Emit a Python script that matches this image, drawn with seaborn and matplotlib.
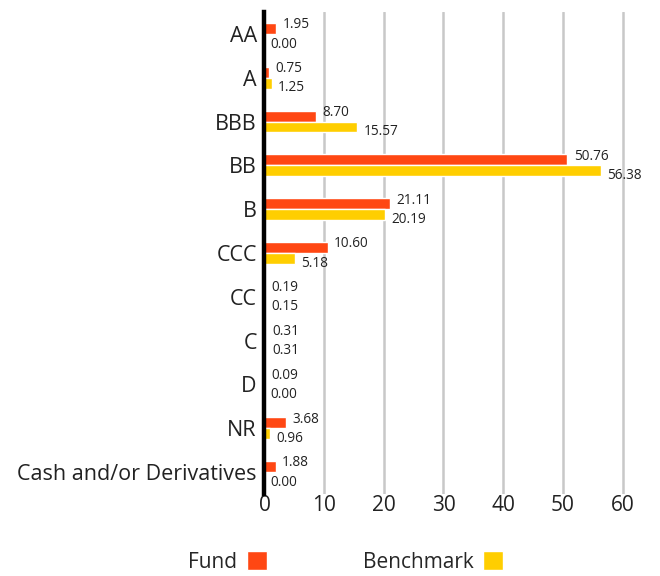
import matplotlib
matplotlib.use("Agg")
import matplotlib.pyplot as plt
import seaborn as sns
import pandas as pd
from matplotlib.patches import Patch

categories = ["AA", "A", "BBB", "BB", "B", "CCC", "CC", "C", "D", "NR", "Cash and/or Derivatives"]
fund = [1.95, 0.75, 8.70, 50.76, 21.11, 10.60, 0.19, 0.31, 0.09, 3.68, 1.88]
benchmark = [0.00, 1.25, 15.57, 56.38, 20.19, 5.18, 0.15, 0.31, 0.00, 0.96, 0.00]
series = ["Fund", "Benchmark"]
colors = ["#FF4713", "#FFCE00"]
xticks = [0, 10, 20, 30, 40, 50, 60]

df = pd.DataFrame({
    "Category": categories * 2,
    "Value": fund + benchmark,
    "Series": [series[0]] * len(categories) + [series[1]] * len(categories),
})

sns.set_theme(style="white")
plt.rcParams["font.family"] = ["Open Sans", "DejaVu Sans"]

fig = plt.figure(figsize=(6.6, 5.76), dpi=100)
ax = fig.add_axes([0.4007, 0.1424, 0.5606, 0.8368])

sns.barplot(data=df, y="Category", x="Value", hue="Series", order=categories,
            hue_order=series, palette=colors, width=0.5, orient="h",
            saturation=1, ax=ax, legend=False, errorbar=None)

ax.set_xlim(0, 62)
ax.set_ylim(len(categories) - 0.5, -0.5)
ax.set_xticks(xticks)
ax.set_xticklabels([str(t) for t in xticks], fontsize=15, color="#222222")
ax.tick_params(axis="y", labelsize=15.5, colors="#222222", length=0, pad=5.5)
ax.tick_params(axis="x", length=0, pad=1)
ax.set_xlabel("")
ax.set_ylabel("")
for t in xticks[1:]:
    ax.axvline(t, color="#c8c8c8", lw=1.8, zorder=0)
for s in ["top", "right", "bottom"]:
    ax.spines[s].set_visible(False)
ax.spines["left"].set_color("black")
ax.spines["left"].set_linewidth(3.2)
ax.spines["left"].set_zorder(5)

for i, c in enumerate(ax.containers):
    off = 2.6 if i == 0 else -3.4
    for bar, v in zip(c, fund if i == 0 else benchmark):
        y = bar.get_y() + bar.get_height() / 2
        ax.annotate(f"{v:.2f}", xy=(bar.get_width(), y), xytext=(4.5, off),
                    textcoords="offset points", ha="left", va="center",
                    fontsize=9.8, color="#222222")

handles = [Patch(facecolor=colors[0]), Patch(facecolor=colors[1])]
fig.legend(handles, series, loc="center", bbox_to_anchor=(0.5235, 0.0243), ncol=2,
           markerfirst=False, frameon=False, handlelength=0.96, handleheight=0.96,
           columnspacing=4.6, handletextpad=0.45, fontsize=15)

fig.savefig("out.png", dpi=100)
